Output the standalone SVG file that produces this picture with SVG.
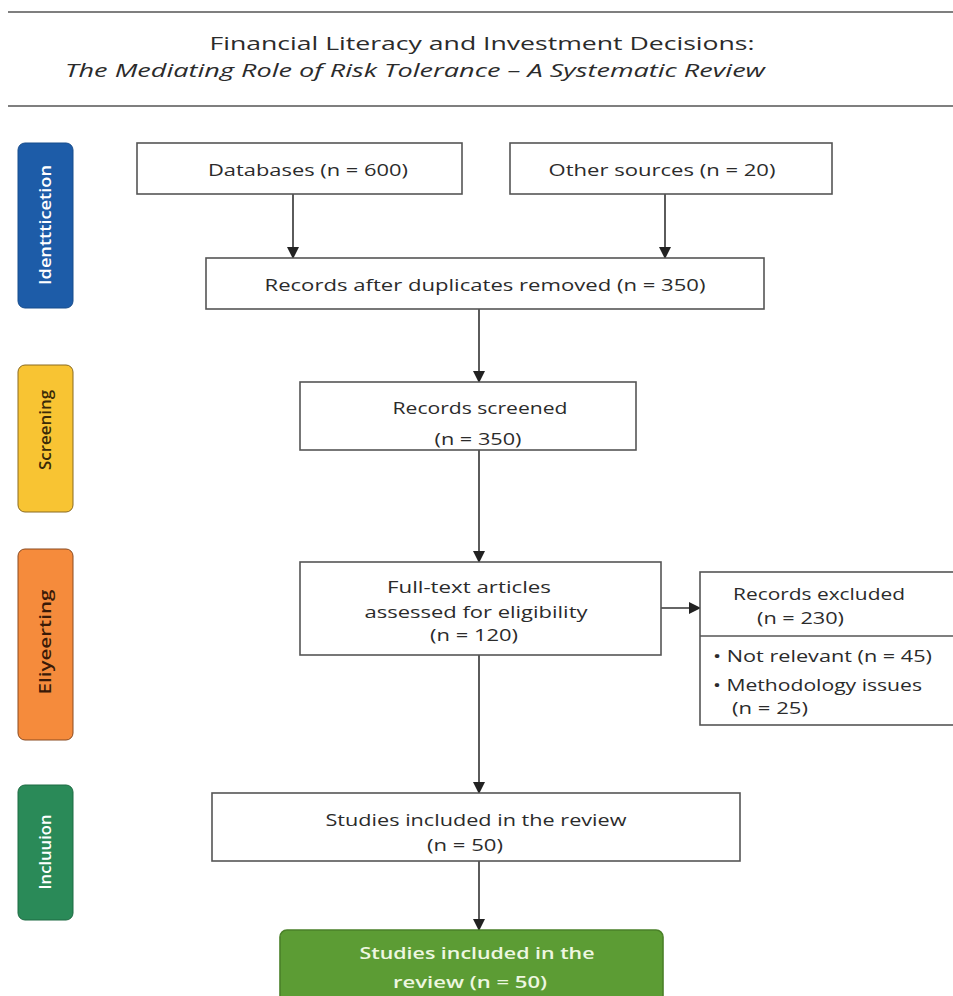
<svg xmlns="http://www.w3.org/2000/svg" width="953" height="996" viewBox="0 0 953 996">
<style>
.t{font-family:"Open Sans","Liberation Sans",sans-serif;fill:#2b2b2b;font-size:17px;font-weight:500;text-anchor:middle}
.s{text-anchor:start}
.box{fill:#fff;stroke:#555;stroke-width:1.6}
.lbl{font-family:"Open Sans","Liberation Sans",sans-serif;font-size:16px;font-weight:600;text-anchor:middle}
.c{stroke:#333;stroke-width:1.6;fill:none;marker-end:url(#ah)}
</style>
<defs>
<marker id="ah" markerWidth="12" markerHeight="12" refX="11" refY="6" orient="auto" markerUnits="userSpaceOnUse">
<path d="M0,0 L12,6 L0,12 z" fill="#222"/>
</marker>
</defs>
<rect width="953" height="996" fill="#fff"/>
<g id="header">
<line x1="8" y1="12" x2="953" y2="12" stroke="#555" stroke-width="1.6"/>
<line x1="8" y1="106" x2="953" y2="106" stroke="#555" stroke-width="1.6"/>
<text x="482" y="50" class="t" style="font-size:18px" textLength="545" lengthAdjust="spacingAndGlyphs">Financial Literacy and Investment Decisions:</text>
<text x="415" y="77" class="t" style="font-size:18px;font-style:italic" textLength="700" lengthAdjust="spacingAndGlyphs">The Mediating Role of Risk Tolerance – A Systematic Review</text>
</g>
<g id="phase-identification">
<rect x="18" y="143" width="55" height="165" rx="7" fill="#1d5ca8" stroke="#174c8c"/>
<text class="lbl" transform="translate(51,225) rotate(-90)" fill="#fff" textLength="120" lengthAdjust="spacingAndGlyphs">Identtticetion</text>
</g>
<g id="phase-screening">
<rect x="18" y="365" width="55" height="147" rx="7" fill="#f8c433" stroke="#8a6a20"/>
<text class="lbl" transform="translate(51,430) rotate(-90)" fill="#3a2a08" textLength="80" lengthAdjust="spacingAndGlyphs">Screening</text>
</g>
<g id="phase-eligibility">
<rect x="18" y="549" width="55" height="191" rx="7" fill="#f58b3c" stroke="#8a4a20"/>
<text class="lbl" transform="translate(51,642) rotate(-90)" fill="#3a1a08" textLength="105" lengthAdjust="spacingAndGlyphs">Eliyeerting</text>
</g>
<g id="phase-inclusion">
<rect x="18" y="785" width="55" height="135" rx="7" fill="#2a8a58" stroke="#1d6a42"/>
<text class="lbl" transform="translate(51,852) rotate(-90)" fill="#fff" textLength="75" lengthAdjust="spacingAndGlyphs">Incluuion</text>
</g>
<g id="connectors">
<line class="c" x1="293" y1="194" x2="293" y2="258"/>
<line class="c" x1="665" y1="194" x2="665" y2="258"/>
<line class="c" x1="479" y1="309" x2="479" y2="382"/>
<line class="c" x1="479" y1="450" x2="479" y2="562"/>
<line class="c" x1="661" y1="608" x2="700" y2="608"/>
<line class="c" x1="479" y1="655" x2="479" y2="793"/>
<line class="c" x1="479" y1="861" x2="479" y2="930"/>
</g>
<g id="databases">
<rect class="box" x="137" y="143" width="325" height="51"/>
<text class="t" x="308" y="176" textLength="200" lengthAdjust="spacingAndGlyphs">Databases (n = 600)</text>
</g>
<g id="other-sources">
<rect class="box" x="510" y="143" width="322" height="51"/>
<text class="t" x="662" y="176" textLength="227" lengthAdjust="spacingAndGlyphs">Other sources (n = 20)</text>
</g>
<g id="duplicates-removed">
<rect class="box" x="206" y="258" width="558" height="51"/>
<text class="t" x="485" y="291" textLength="441" lengthAdjust="spacingAndGlyphs">Records after duplicates removed (n = 350)</text>
</g>
<g id="records-screened">
<rect class="box" x="300" y="382" width="336" height="68"/>
<text class="t" x="480" y="414" textLength="175" lengthAdjust="spacingAndGlyphs">Records screened</text>
<text class="t" x="478" y="445" textLength="87" lengthAdjust="spacingAndGlyphs">(n = 350)</text>
</g>
<g id="full-text">
<rect class="box" x="300" y="562" width="361" height="93"/>
<text class="t" x="469" y="593" textLength="164" lengthAdjust="spacingAndGlyphs">Full-text articles</text>
<text class="t" x="476" y="618" textLength="223" lengthAdjust="spacingAndGlyphs">assessed for eligibility</text>
<text class="t" x="474" y="641" textLength="88" lengthAdjust="spacingAndGlyphs">(n = 120)</text>
</g>
<g id="records-excluded">
<rect class="box" x="700" y="572" width="260" height="153"/>
<line x1="700" y1="636" x2="953" y2="636" stroke="#555" stroke-width="1.6"/>
<text class="t s" x="733" y="600" textLength="172" lengthAdjust="spacingAndGlyphs">Records excluded</text>
<text class="t s" x="757" y="624" textLength="87" lengthAdjust="spacingAndGlyphs">(n = 230)</text>
<text class="t s" x="713" y="662" textLength="219" lengthAdjust="spacingAndGlyphs">• Not relevant (n = 45)</text>
<text class="t s" x="713" y="691" textLength="209" lengthAdjust="spacingAndGlyphs">• Methodology issues</text>
<text class="t s" x="732" y="714" textLength="76" lengthAdjust="spacingAndGlyphs">(n = 25)</text>
</g>
<g id="studies-included">
<rect class="box" x="212" y="793" width="528" height="68"/>
<text class="t" x="476" y="826" textLength="301" lengthAdjust="spacingAndGlyphs">Studies included in the review</text>
<text class="t" x="465" y="851" textLength="76" lengthAdjust="spacingAndGlyphs">(n = 50)</text>
</g>
<g id="final-included">
<rect x="280" y="930" width="383" height="80" rx="7" fill="#5c9c34" stroke="#4a8028" stroke-width="1.6"/>
<text class="t" x="477" y="959" style="fill:#eef7e0;font-weight:600" textLength="235" lengthAdjust="spacingAndGlyphs">Studies included in the</text>
<text class="t" x="470" y="988" style="fill:#eef7e0;font-weight:600" textLength="154" lengthAdjust="spacingAndGlyphs">review (n = 50)</text>
</g>
</svg>
